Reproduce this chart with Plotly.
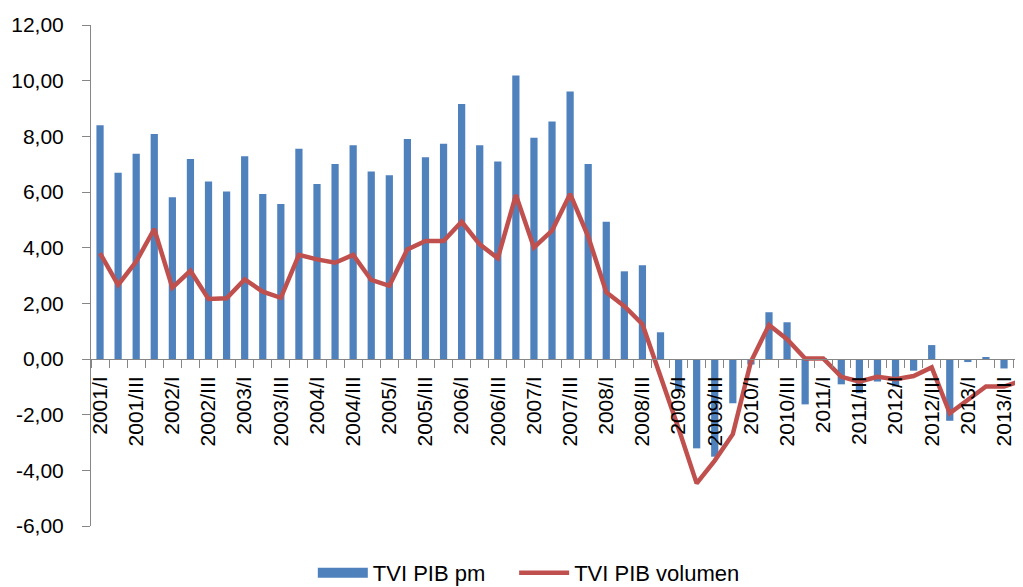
import plotly.graph_objects as go

years = list(range(2001, 2014))
quarters = ["I", "II", "III", "IV"]
categories = [f"{y}/{q}" for y in years for q in quarters]

tvi_pib_pm = [
    8.40, 6.69, 7.37, 8.08, 5.81, 7.19, 6.38, 6.02, 7.28, 5.93,
    5.57, 7.55, 6.29, 7.01, 7.68, 6.74, 6.60, 7.90, 7.25, 7.73,
    9.16, 7.68, 7.10, 10.19, 7.95, 8.53, 9.61, 7.01, 4.93, 3.15,
    3.37, 0.96, -1.10, -3.21, -3.51, -1.59, -0.20, 1.68, 1.32, -1.63,
    0.02, -0.91, -1.23, -0.81, -0.99, -0.42, 0.50, -2.22, -0.11, 0.06,
    -0.34, 0.74,
]

tvi_pib_volumen = [
    3.80, 2.66, 3.50, 4.67, 2.56, 3.17, 2.16, 2.18, 2.86, 2.42,
    2.20, 3.74, 3.58, 3.46, 3.74, 2.84, 2.63, 3.94, 4.24, 4.24,
    4.93, 4.12, 3.62, 5.89, 4.01, 4.61, 5.93, 4.40, 2.40, 1.90,
    1.25, -0.60, -2.50, -4.47, -3.65, -2.70, -0.10, 1.22, 0.71, 0.02,
    0.02, -0.64, -0.81, -0.64, -0.73, -0.61, -0.30, -1.95, -1.47, -0.99,
    -0.99, -0.77,
]

series_names = ["TVI PIB pm", "TVI PIB volumen"]
series_colors = ["#4F81BD", "#C0504D"]

tick_text = [c if i % 2 == 0 else "" for i, c in enumerate(categories)]
y_ticks = [-6, -4, -2, 0, 2, 4, 6, 8, 10, 12]
y_tick_text = [f"{v:.2f}".replace(".", ",") for v in y_ticks]

FONT = "Liberation Sans"
AXIS_COLOR = "#868686"

fig = go.Figure()
fig.add_trace(go.Bar(
    x=categories, y=tvi_pib_pm, name=series_names[0],
    marker=dict(color=series_colors[0], line=dict(width=0)),
    showlegend=False,
))
fig.add_trace(go.Scatter(
    x=categories, y=tvi_pib_volumen, name=series_names[1], mode="lines",
    line=dict(color=series_colors[1], width=4.5),
    showlegend=False,
))
# legend keys (Excel style: wide filled box for bars, line for the line series)
fig.add_trace(go.Scatter(
    x=[None], y=[None], name=series_names[0], mode="lines",
    line=dict(color=series_colors[0], width=10), showlegend=True,
    legend="legend",
))
fig.add_trace(go.Scatter(
    x=[None], y=[None], name=series_names[1], mode="lines",
    line=dict(color=series_colors[1], width=4.5), showlegend=True,
    legend="legend2",
))

legend_common = dict(
    orientation="h", xanchor="left", y=-0.052, yanchor="top",
    font=dict(family=FONT, size=22, color="black"),
    itemwidth=50, bgcolor="rgba(0,0,0,0)",
)

fig.update_layout(
    width=1015, height=579,
    margin=dict(l=83, r=0, t=17, b=61, autoexpand=False),
    paper_bgcolor="white", plot_bgcolor="white",
    bargap=0.6,
    font=dict(family=FONT, size=21, color="black"),
    showlegend=True,
    legend=dict(x=0.238, **legend_common),
    legend2=dict(x=0.454, **legend_common),
    xaxis=dict(
        type="category", range=[-0.5, 51.05],
        tickmode="array", tickvals=categories, ticktext=tick_text,
        tickson="boundaries", ticks="outside", ticklen=8, tickcolor=AXIS_COLOR,
        tickangle=-90, tickfont=dict(family=FONT, size=21, color="black"),
        ticklabelstandoff=8,
        showline=True, linecolor=AXIS_COLOR, linewidth=1,
        showgrid=False, zeroline=False,
        anchor="free", position=1/3, automargin=False,
    ),
    yaxis=dict(
        range=[-6, 12], tickmode="array", tickvals=y_ticks, ticktext=y_tick_text,
        ticks="outside", ticklen=8, tickcolor=AXIS_COLOR,
        tickfont=dict(family=FONT, size=21, color="black"),
        ticklabelstandoff=14,
        showline=True, linecolor=AXIS_COLOR, linewidth=1,
        showgrid=False, zeroline=False, automargin=False,
    ),
)

fig.write_html("out.html")
